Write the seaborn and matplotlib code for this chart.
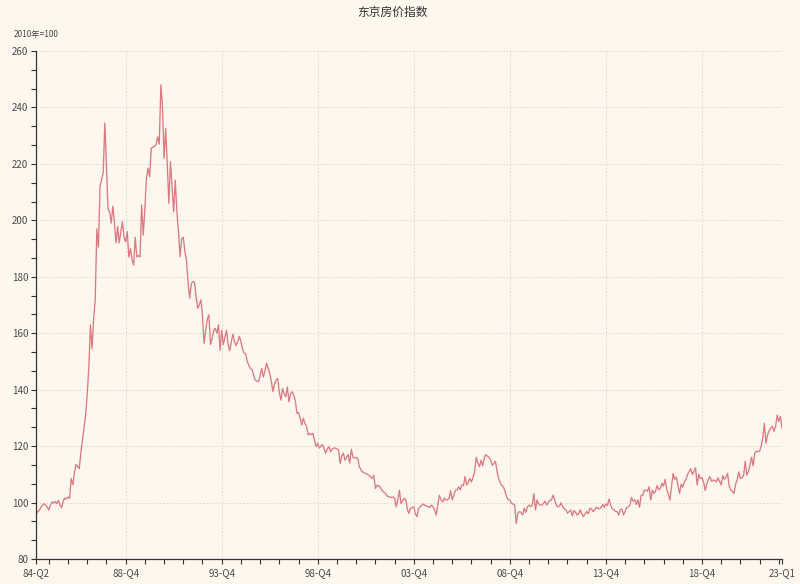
import numpy as np
import pandas as pd
import matplotlib
matplotlib.use("Agg")
import matplotlib.pyplot as plt
import seaborn as sns
from matplotlib.ticker import FixedLocator, MultipleLocator

# ---- data: Tokyo house price index, monthly, Apr 1984 .. Feb 2023 (2010 = 100)
title = "东京房价指数"
unit_label = "2010年=100"
start_month = "1984-04"
tick_labels = ["84-Q2", "88-Q4", "93-Q4", "98-Q4", "03-Q4", "08-Q4", "13-Q4", "18-Q4", "23-Q1"]

index_values = [
    95.5, 96.8, 97.2, 98.3, 99.0, 99.6, 99.2, 98.4, 97.3, 99.0, 100.2, 99.8,
    100.4, 99.6, 100.8, 99.0, 98.2, 100.5, 101.6, 101.2, 102.0, 101.5, 108.5, 106.3,
    110.5, 113.5, 112.8, 112.0, 117.5, 122.0, 126.5, 131.0, 138.5, 148.0, 163.0, 154.5,
    165.0, 172.0, 197.0, 190.5, 212.0, 214.5, 217.0, 234.5, 219.0, 204.0, 203.0, 199.0,
    205.0, 199.0, 192.0, 197.8, 192.0, 196.0, 199.5, 194.0, 192.4, 196.0, 187.0, 190.0,
    186.0, 184.2, 194.0, 187.0, 187.5, 187.0, 205.4, 194.8, 204.0, 214.9, 218.5, 215.5,
    225.5, 226.0, 226.2, 226.8, 229.6, 227.0, 248.0, 240.3, 222.0, 232.6, 220.0, 206.0,
    220.8, 212.0, 203.0, 214.3, 203.0, 196.0, 187.1, 193.5, 194.0, 189.0, 186.0, 178.0,
    172.4, 177.6, 178.3, 178.0, 173.0, 168.8, 170.0, 171.8, 166.0, 156.4, 161.0, 165.0,
    166.5, 156.0, 158.0, 161.0, 161.7, 160.0, 163.0, 154.0, 161.0, 156.0, 158.5, 161.0,
    156.0, 153.8, 157.0, 159.7, 157.0, 155.6, 157.0, 158.9, 157.0, 154.4, 153.0, 152.6,
    150.0, 148.5, 147.5, 147.0, 145.0, 143.4, 143.0, 142.8, 145.0, 147.5, 144.5, 146.5,
    149.3, 147.5, 145.8, 143.0, 139.3, 142.0, 143.4, 144.0, 139.0, 136.3, 140.4, 138.5,
    137.5, 141.0, 135.7, 138.5, 139.3, 138.0, 136.0, 131.6, 132.0, 130.0, 127.5, 129.9,
    128.0, 127.0, 124.0, 124.5, 124.0, 124.5, 122.0, 119.8, 121.0, 119.3, 120.0, 120.5,
    119.0, 117.5, 119.0, 119.8, 118.0, 119.0, 119.3, 119.3, 119.0, 118.6, 113.9, 116.5,
    117.5, 115.0, 116.0, 117.0, 114.0, 118.9, 116.0, 115.8, 116.0, 115.5, 112.7, 111.5,
    110.9, 110.5, 110.3, 110.0, 109.7, 109.0, 108.6, 109.7, 105.0, 106.1, 106.0, 105.5,
    104.5, 103.8, 103.5, 102.6, 102.0, 102.0, 101.8, 102.0, 101.5, 98.5, 100.9, 104.4,
    99.7, 100.5, 101.5, 101.0, 97.5, 96.2, 98.0, 98.2, 98.5, 96.0, 95.0, 98.0,
    98.5, 99.0, 99.5, 99.0, 98.8, 98.5, 98.3, 99.1, 98.5, 97.4, 95.6, 99.0,
    102.6, 101.0, 100.2, 101.5, 101.0, 100.9, 101.5, 104.2, 101.0, 102.6, 104.4, 104.5,
    105.6, 104.5, 106.2, 106.0, 109.2, 106.2, 107.3, 108.5, 107.3, 109.0, 110.9, 116.0,
    114.0, 112.7, 115.0, 113.0, 115.7, 117.0, 116.4, 116.0, 115.0, 113.2, 113.8, 114.6,
    111.0, 108.5, 107.0, 106.0, 105.6, 103.8, 102.0, 101.0, 100.9, 99.7, 99.5, 99.1,
    92.6, 96.2, 96.8, 96.5, 95.6, 98.0, 96.5, 98.5, 99.1, 98.5, 99.1, 103.2,
    97.4, 100.9, 99.5, 99.1, 99.1, 99.7, 100.5, 99.1, 100.0, 100.9, 100.9, 102.6,
    101.0, 99.1, 98.5, 98.7, 99.9, 98.5, 97.8, 97.4, 96.2, 96.8, 97.4, 95.3,
    97.2, 96.5, 95.6, 96.0, 97.4, 96.0, 95.0, 96.0, 96.8, 96.0, 98.0, 97.7,
    96.8, 97.5, 98.3, 98.0, 97.8, 98.3, 99.3, 98.3, 99.5, 99.0, 101.3, 99.0,
    97.7, 97.5, 96.8, 96.8, 95.6, 97.5, 97.7, 95.6, 96.8, 98.3, 98.5, 99.1,
    101.8, 100.5, 101.0, 99.3, 101.0, 98.3, 102.6, 102.5, 104.4, 104.4, 104.0, 105.6,
    100.9, 104.4, 103.2, 104.0, 106.0, 104.5, 105.0, 106.8, 105.8, 108.2, 104.8, 103.0,
    100.9, 105.8, 110.3, 108.2, 109.0, 106.2, 103.2, 106.5, 105.5, 107.3, 108.2, 110.0,
    111.0, 112.0, 110.0, 111.0, 112.3, 106.2, 110.0, 108.5, 108.8, 107.3, 104.3, 106.5,
    108.2, 109.2, 107.5, 108.0, 107.8, 107.3, 108.8, 107.5, 106.2, 109.5, 108.2, 109.0,
    110.3, 105.8, 104.5, 104.0, 103.2, 106.5, 108.0, 110.9, 108.5, 108.8, 109.5, 114.6,
    109.7, 110.9, 113.4, 116.1, 113.0, 117.5, 118.2, 118.0, 118.2, 120.0, 123.0, 128.1,
    121.0, 124.0, 125.5, 126.5, 127.0, 125.2, 127.0, 131.0, 128.7, 130.5, 126.3,
]

y_min, y_max, y_step = 80, 260, 20

# ---- build table
periods = pd.period_range(start=start_month, periods=len(index_values), freq="M")
labels_all = [f"{p.year % 100:02d}-Q{p.quarter}" for p in periods]
df = pd.DataFrame({"idx": np.arange(len(index_values)), "label": labels_all, "value": index_values})

# positions of the labelled ticks (first, every 5 years in Dec, last)
major_pos = [0] + [i for i, p in enumerate(periods) if p.month == 12 and (p.year - 1988) % 5 == 0] + [len(periods) - 1]
minor_pos = [i for i, p in enumerate(periods) if p.month == 12 and i not in major_pos]

# ---- style
bg = "#fdf7ee"
txt = "#4a4a4a"
sns.set_theme(style="white")
plt.rcParams["font.family"] = ["Noto Sans CJK SC", "DejaVu Sans"]

fig = plt.figure(figsize=(8.0, 5.84), dpi=100, facecolor=bg)
ax = fig.add_axes([36 / 800, 1 - 559 / 584, (782 - 36) / 800, (559 - 51) / 584])
ax.set_facecolor(bg)

sns.lineplot(data=df, x="idx", y="value", ax=ax, color="#dc7a82", linewidth=0.95)

ax.set_xlim(0, len(index_values) - 1)
ax.set_ylim(y_min, y_max)

# x ticks
ax.xaxis.set_major_locator(FixedLocator(major_pos))
ax.set_xticklabels([df["label"].iloc[i] for i in major_pos])
ax.xaxis.set_minor_locator(FixedLocator(minor_pos))
# y ticks
ax.yaxis.set_major_locator(MultipleLocator(y_step))
ax.yaxis.set_minor_locator(MultipleLocator(y_step / 3))

ax.tick_params(axis="both", which="both", direction="out", length=3.5, width=0.8,
               color="#333333", labelsize=7, labelcolor=txt, pad=2,
               bottom=True, left=True, top=False, right=False)
ax.tick_params(axis="x", which="major", pad=3)

# grid
ax.grid(True, which="major", axis="both", linestyle=(0, (2, 2)), color="#d6d6d6", linewidth=0.6)
ax.set_axisbelow(True)

for s in ["top", "right"]:
    ax.spines[s].set_visible(False)
for s in ["left", "bottom"]:
    ax.spines[s].set_color("#333333")
    ax.spines[s].set_linewidth(0.9)

ax.set_xlabel("")
ax.set_ylabel("")

fig.text(392 / 800, 1 - 12 / 584, title, ha="center", va="center", fontsize=8.5, color="#333333")
fig.text(14 / 800, 1 - 34 / 584, unit_label, ha="left", va="center", fontsize=6, color=txt)

fig.savefig("out.png", dpi=100, facecolor=bg)
